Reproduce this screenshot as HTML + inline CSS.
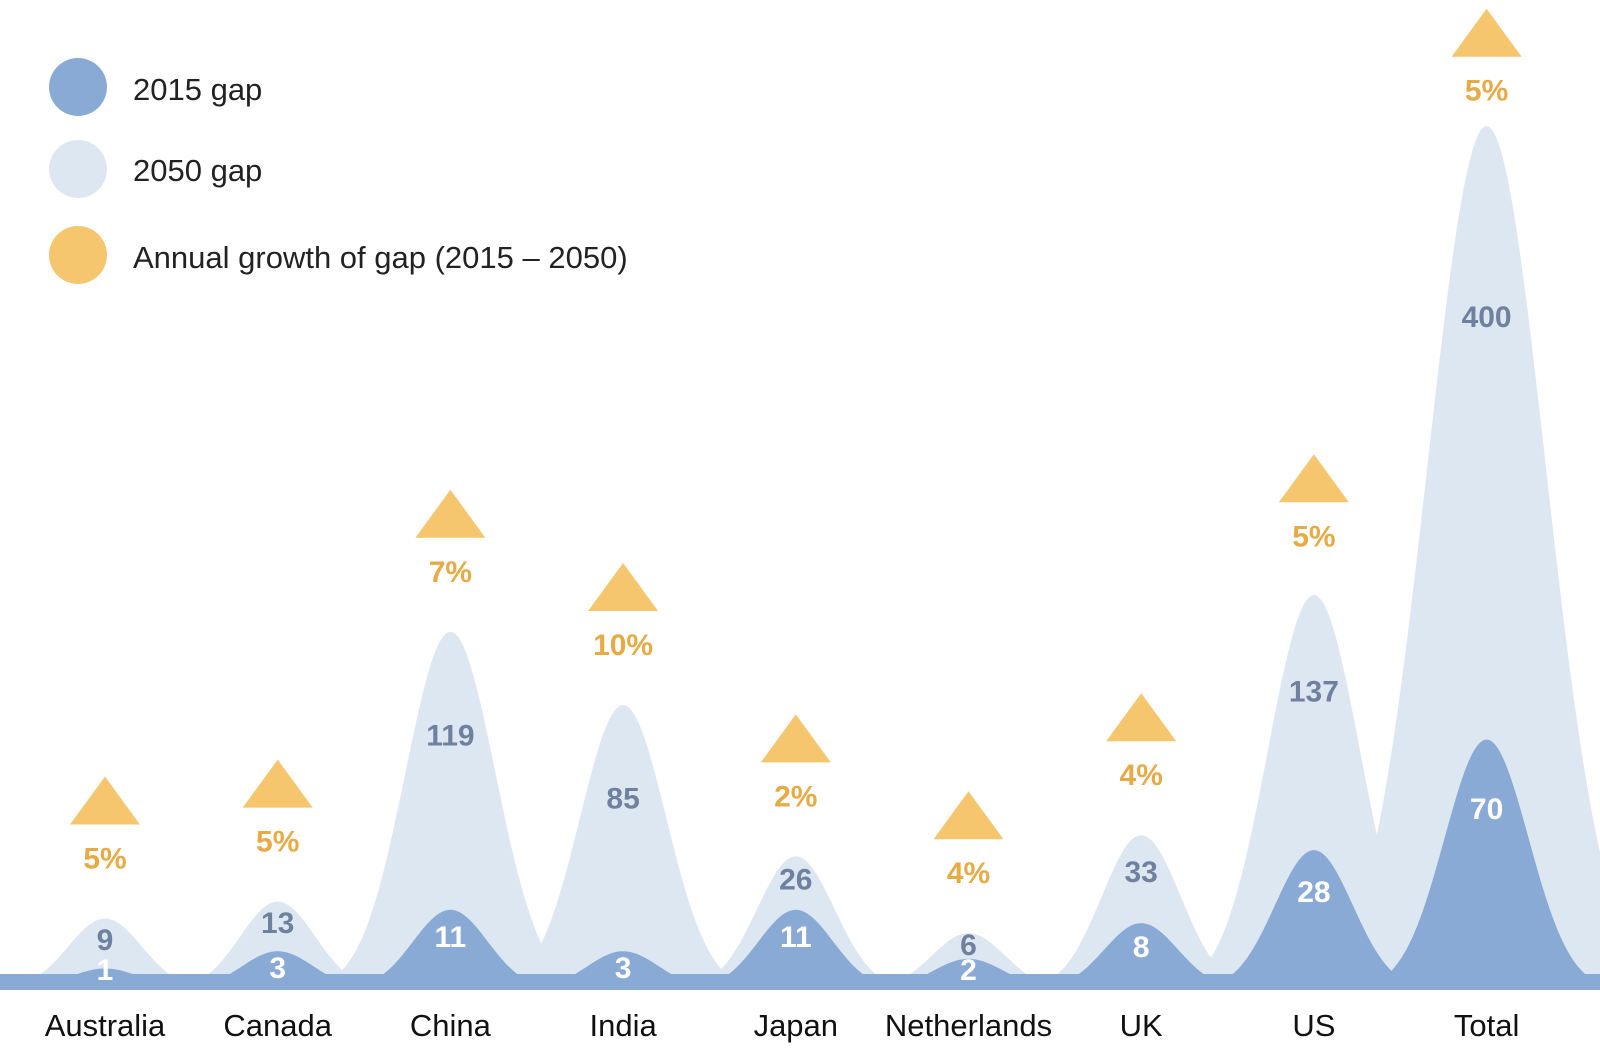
<!DOCTYPE html>
<html><head><meta charset="utf-8"><style>
html,body{margin:0;padding:0;background:#fff;}
svg{display:block;font-family:"Liberation Sans",Arial,sans-serif;}
</style></head><body>
<svg id="chart" width="1600" height="1048" viewBox="0 0 1600 1048">
<g>
  <circle cx="78" cy="87" r="29" fill="#8aaad6"/>
  <text x="133" y="100" font-size="31" fill="#222">2015 gap</text>
  <circle cx="78" cy="169" r="29" fill="#dde7f1"/>
  <text x="133" y="181" font-size="31" fill="#222">2050 gap</text>
  <circle cx="78" cy="255" r="29" fill="#f5c66e"/>
  <text x="133" y="268" font-size="31" fill="#222">Annual growth of gap (2015 – 2050)</text>
</g>
<g id="marks"></g>
</svg>
<script>
const categories = ["Australia","Canada","China","India","Japan","Netherlands","UK","US","Total"];
const gap2015 = [1,3,11,3,11,2,8,28,70];
const gap2050 = [9,13,119,85,26,6,33,137,400];
const growth = ["5%","5%","7%","10%","2%","4%","4%","5%","5%"];

const NS = "http://www.w3.org/2000/svg";
const baseY = 990, x0 = 105, step = 172.7;
function xPos(i){ return x0 + i*step; }
function hScale(v){ return 20.4*Math.sqrt(v) + 1.14*v; }
function sigma(h){ return 35 + 0.028*h; }
const g = document.getElementById('marks');
function mk(tag, attrs){ const e=document.createElementNS(NS,tag); for(const k in attrs) e.setAttribute(k,attrs[k]); g.appendChild(e); return e; }
function bump(cx, h){
  const s = sigma(h); let d = "M"+(cx-4*s)+","+baseY;
  for(let x=-4*s;x<=4*s;x+=2){ d += " L"+(cx+x).toFixed(1)+","+(baseY-h*Math.exp(-x*x/(2*s*s))).toFixed(1); }
  return d + " L"+(cx+4*s)+","+baseY+" Z";
}
categories.forEach((c,i)=>{
  const p = mk('path',{d:bump(xPos(i),hScale(gap2050[i])),fill:'#dde7f1'});
  
  
});
const floor = mk('rect',{x:0,y:baseY-16,width:1600,height:16,fill:'#8aaad6'});


categories.forEach((c,i)=>{
  const p = mk('path',{d:bump(xPos(i),hScale(gap2015[i])),fill:'#8aaad6'});
  
  
});
categories.forEach((c,i)=>{
  const cx = xPos(i), h50 = hScale(gap2050[i]), h15 = hScale(gap2015[i]);
  const p50 = baseY-h50, p15 = baseY-h15;
  const diff = p15 - p50;
  const t50 = mk('text',{x:cx,y:p50+0.42*diff-0.00018*diff*diff+11,'text-anchor':'middle','font-size':30,'font-weight':'bold',fill:'#6f819e'});
  t50.textContent = gap2050[i];
  
  
  const y15 = Math.min(p15 + 0.25*h15 + 5, baseY-22);
  const t15 = mk('text',{x:cx,y:y15+12,'text-anchor':'middle','font-size':30,'font-weight':'bold',fill:'#fff'});
  t15.textContent = gap2015[i];
  
  
  const extra = Math.max(0, h50-370);
  const tb = p50 - (94 - 0.05*extra), tl = p50 - (61 - 0.05*extra);
  const tri = mk('polygon',{points:(cx-35)+","+tb+" "+(cx+35)+","+tb+" "+cx+","+(tb-48),fill:'#f5c66e'});
  
  
  const gt = mk('text',{x:cx,y:tl+11,'text-anchor':'middle','font-size':30,'font-weight':'bold',fill:'#e8aa45'});
  gt.textContent = growth[i];
  
  
  const lab = mk('text',{x:cx,y:1036,'text-anchor':'middle','font-size':31,fill:'#111'});
  lab.textContent = c;
  
  
});
</script>
</body></html>
